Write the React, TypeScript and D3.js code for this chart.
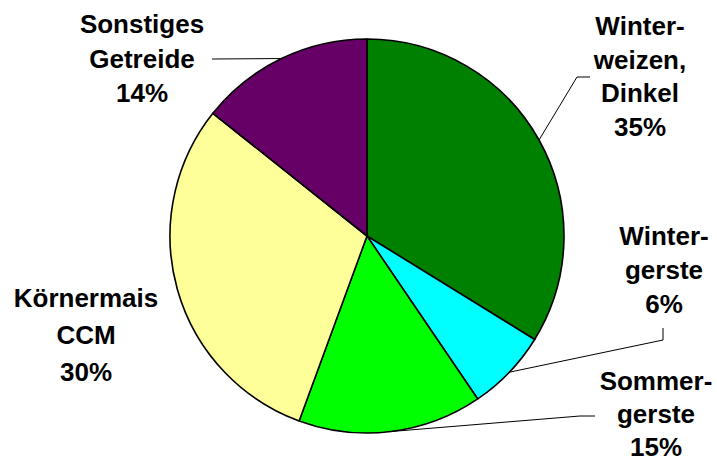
import { useEffect, useRef } from 'react';
import * as d3 from 'd3';

// slice shares
const categories = ['Winterweizen, Dinkel', 'Wintergerste', 'Sommergerste', 'Körnermais CCM', 'Sonstiges Getreide'];
const values = [33.8, 6.7, 15.1, 30.1, 14.3];
const percentLabels = ['35%', '6%', '15%', '30%', '14%'];
const labelLines = [
  ['Winter-', 'weizen,', 'Dinkel'],
  ['Winter-', 'gerste'],
  ['Sommer-', 'gerste'],
  ['Körnermais', 'CCM'],
  ['Sonstiges', 'Getreide'],
];
const colors = ['#008000', '#00FFFF', '#00FF00', '#FFFF99', '#660066'];

// label placement (layout only)
const labelLayout = [
  { x: 640, y: 35, step: 33.5, leader: [[590, 77], [577, 77]] as [number, number][] },
  { x: 664, y: 245, step: 34, leader: [[663, 328], [663, 340]] as [number, number][] },
  { x: 656, y: 390, step: 33, leader: [[595, 416], [580, 416]] as [number, number][] },
  { x: 86, y: 307, step: 37, leader: [] as [number, number][] },
  { x: 142, y: 33, step: 34.5, leader: [[212, 59]] as [number, number][] },
];

export default function App() {
  const svgRef = useRef<SVGSVGElement>(null);

  useEffect(() => {
    if (!svgRef.current) return;
    const width = 717;
    const height = 461;
    const cx = 367;
    const cy = 236;
    const radius = 197;

    const root = d3.select(svgRef.current);
    root.selectAll('*').remove();
    root.attr('width', width).attr('height', height).attr('viewBox', `0 0 ${width} ${height}`);

    const data = categories.map((c, i) => ({ name: c, value: values[i], i }));
    const pie = d3.pie<typeof data[number]>().value((d) => d.value).sort(null);
    const arcs = pie(data);
    const arc = d3.arc<d3.PieArcDatum<typeof data[number]>>().innerRadius(0).outerRadius(radius);

    const g = root.append('g').attr('transform', `translate(${cx},${cy})`);
    g.selectAll('path')
      .data(arcs)
      .enter()
      .append('path')
      .attr('d', arc)
      .attr('fill', (d) => colors[d.data.i])
      .attr('stroke', '#000')
      .attr('stroke-width', 1.6)
      .attr('stroke-linejoin', 'round');

    // leader lines from label to the middle of each slice's rim
    arcs.forEach((a) => {
      const lay = labelLayout[a.data.i];
      if (!lay.leader.length) return;
      const mid = (a.startAngle + a.endAngle) / 2;
      const px = cx + radius * Math.sin(mid);
      const py = cy - radius * Math.cos(mid);
      const pts: [number, number][] = [...lay.leader, [px, py]];
      root
        .append('path')
        .attr('d', d3.line()(pts))
        .attr('fill', 'none')
        .attr('stroke', '#000')
        .attr('stroke-width', 1);
    });

    // labels
    arcs.forEach((a) => {
      const i = a.data.i;
      const lay = labelLayout[i];
      const lines = [...labelLines[i], percentLabels[i]];
      const t = root
        .append('text')
        .attr('text-anchor', 'middle')
        .style('font-family', 'Arial, "Liberation Sans", sans-serif')
        .style('font-weight', 'bold')
        .style('font-size', '26px')
        .attr('fill', '#000');
      lines.forEach((ln, k) => {
        t.append('tspan')
          .attr('x', lay.x)
          .attr('y', lay.y + k * lay.step)
          .text(ln);
      });
    });
  }, []);

  return (
    <div style={{ position: 'absolute', left: 0, top: 0, background: '#fff' }}>
      <svg ref={svgRef} style={{ display: 'block' }} />
    </div>
  );
}
